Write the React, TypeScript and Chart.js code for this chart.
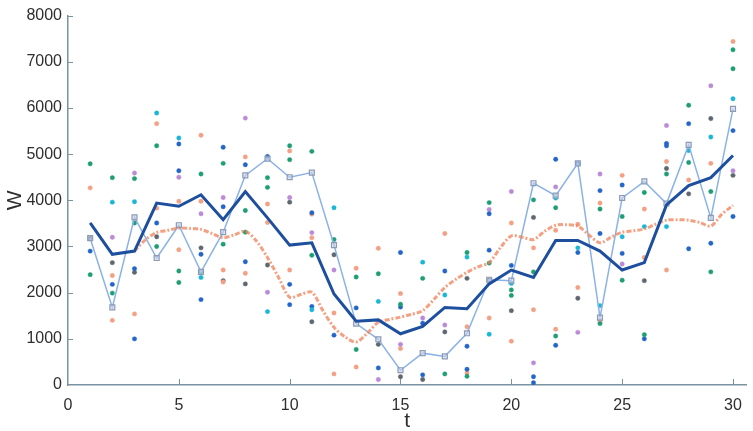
import React, { useEffect, useRef } from "react";
import { Chart, registerables } from "chart.js";
Chart.register(...registerables);

const tValues = [1, 2, 3, 4, 5, 6, 7, 8, 9, 10, 11, 12, 13, 14, 15, 16, 17, 18, 19, 20, 21, 22, 23, 24, 25, 26, 27, 28, 29, 30];
const meanW = [3510, 2830, 2900, 3940, 3870, 4120, 3580, 4190, 3620, 3030, 3080, 1970, 1380, 1410, 1110, 1270, 1680, 1650, 2190, 2490, 2330, 3130, 3130, 2900, 2490, 2650, 3900, 4320, 4490, 4970];
const squareW = [3180, 1680, 3630, 2750, 3460, 2450, 3310, 4540, 4900, 4500, 4600, 3030, 1330, 990, 320, 690, 620, 1120, 2280, 2260, 4370, 4100, 4800, 1460, 4050, 4410, 3930, 5200, 3620, 5980];
const smoothT = [3, 3.5, 4, 4.5, 5, 5.5, 6, 6.5, 7, 7.5, 8, 8.5, 9, 9.5, 10, 10.5, 11, 11.5, 12, 12.5, 13, 13.5, 14, 14.5, 15, 15.5, 16, 16.5, 17, 17.5, 18, 18.5, 19, 19.5, 20, 20.5, 21, 21.5, 22, 22.5, 23, 23.5, 24, 24.5, 25, 25.5, 26, 26.5, 27, 27.5, 28, 28.5, 29, 29.5, 30];
const smoothW = [2900, 3150, 3300, 3350, 3400, 3390, 3370, 3280, 3190, 3250, 3330, 3120, 2760, 2330, 1900, 1960, 2010, 1610, 1250, 1040, 930, 1120, 1360, 1420, 1470, 1530, 1610, 1850, 2110, 2290, 2440, 2560, 2650, 2970, 3230, 3200, 3150, 3330, 3460, 3470, 3440, 3250, 3080, 3200, 3310, 3340, 3380, 3480, 3570, 3580, 3570, 3520, 3440, 3700, 3890];

const greenPts = [[1, 4790], [1, 2390], [2, 4490], [2, 1990], [3, 4470], [3, 3510], [4, 5180], [4, 3000], [5, 2470], [5, 2220], [6, 4570], [6, 2450], [7, 4800], [7, 3050], [8, 3780], [8, 3310], [9, 4490], [9, 4280], [10, 5180], [10, 4880], [11, 5060], [11, 2810], [12, 3150], [13, 2340], [13, 770], [14, 2410], [15, 1750], [16, 2310], [17, 240], [18, 2870], [18, 190], [19, 3950], [19, 2640], [20, 2060], [20, 1940], [21, 4010], [21, 2450], [22, 3840], [22, 1060], [24, 3810], [24, 1330], [25, 3650], [25, 2270], [26, 4170], [26, 1090], [27, 4570], [28, 6060], [28, 4820], [29, 4190], [29, 2450], [30, 7260], [30, 6850]];
const cyanPts = [[2, 3960], [3, 3970], [4, 5890], [5, 5350], [6, 2330], [9, 1590], [11, 1630], [12, 3840], [14, 1810], [16, 2660], [17, 1950], [18, 2770], [19, 1100], [20, 2200], [22, 4050], [23, 2970], [24, 1720], [25, 3210], [26, 3430], [27, 3430], [28, 5080], [29, 5370], [30, 6200]];
const bluePts = [[1, 2900], [2, 2180], [3, 2520], [3, 1000], [4, 3510], [5, 5220], [5, 4640], [6, 2830], [6, 1850], [7, 5150], [7, 3860], [8, 4770], [8, 2670], [9, 4950], [10, 2180], [10, 1740], [11, 3730], [11, 1700], [12, 1080], [13, 1670], [14, 370], [15, 2870], [15, 1690], [16, 1340], [16, 220], [17, 2470], [18, 840], [18, 340], [19, 3710], [19, 2920], [20, 2590], [21, 180], [21, 50], [22, 4890], [22, 860], [23, 4800], [23, 2870], [24, 4210], [24, 3280], [25, 4330], [25, 2850], [26, 1000], [27, 5230], [27, 5180], [28, 5660], [28, 2950], [29, 3070], [30, 5510], [30, 3650]];
const purplePts = [[2, 3200], [3, 4590], [5, 4500], [6, 3710], [7, 4060], [8, 5780], [9, 2010], [10, 4060], [11, 3300], [12, 2490], [14, 120], [15, 880], [16, 1450], [17, 1300], [19, 3800], [20, 4190], [21, 480], [22, 4290], [23, 1140], [24, 4570], [25, 2620], [27, 5620], [29, 6480], [30, 4640]];
const salmonPts = [[1, 4270], [2, 2370], [2, 1400], [3, 1540], [4, 5660], [4, 3830], [5, 3980], [5, 2930], [6, 5410], [6, 3980], [7, 2490], [7, 2230], [8, 4940], [8, 2420], [9, 3920], [9, 3520], [10, 5070], [10, 2490], [11, 3700], [11, 3190], [12, 1560], [12, 240], [13, 2530], [13, 390], [14, 2960], [15, 1980], [15, 790], [17, 3280], [18, 1260], [18, 260], [19, 1450], [20, 3510], [20, 950], [21, 2970], [21, 1630], [22, 3350], [22, 1210], [23, 3480], [23, 2110], [24, 3940], [24, 1380], [25, 4540], [26, 3810], [26, 2760], [27, 4840], [27, 2490], [28, 4440], [29, 4800], [30, 7440]];
const greyPts = [[1, 3180], [2, 2650], [3, 2440], [4, 3210], [6, 2970], [7, 2260], [8, 2190], [9, 2600], [10, 3960], [11, 1370], [12, 2820], [14, 880], [15, 180], [16, 120], [17, 1150], [18, 2310], [19, 2280], [20, 1610], [21, 3630], [23, 1880], [26, 2260], [27, 4690], [28, 4140], [29, 5770], [30, 4540]];

const xTickValues = [0, 5, 10, 15, 20, 25, 30];
const yTickValues = [0, 1000, 2000, 3000, 4000, 5000, 6000, 7000, 8000];

const AXIS_COLOR = "#7a93a3";
const TEXT_COLOR = "#2e2e2e";
const FONT = "Liberation Sans, Arial, sans-serif";

const toXY = (pts: number[][]) => pts.map(([x, y]) => ({ x, y }));

const innerTicks = {
  id: "innerTicks",
  afterDraw(chart: any) {
    const { ctx, chartArea, scales } = chart;
    const xs = scales.x;
    const ys = scales.y;
    ctx.save();
    ctx.strokeStyle = AXIS_COLOR;
    ctx.lineWidth = 1;
    xTickValues.forEach((v) => {
      if (v === 0) return;
      const px = Math.round(xs.getPixelForValue(v)) + 0.5;
      ctx.beginPath();
      ctx.moveTo(px, chartArea.bottom);
      ctx.lineTo(px, chartArea.bottom - 6);
      ctx.stroke();
    });
    yTickValues.forEach((v) => {
      if (v === 0) return;
      const py = Math.round(ys.getPixelForValue(v)) + 0.5;
      ctx.beginPath();
      ctx.moveTo(chartArea.left, py);
      ctx.lineTo(chartArea.left + 5, py);
      ctx.stroke();
    });
    ctx.restore();
  },
};

function dots(label: string, pts: number[][], color: string) {
  return {
    type: "scatter" as const,
    label,
    data: toXY(pts),
    showLine: false,
    pointRadius: 2.2,
    pointBorderWidth: 0.8,
    pointBackgroundColor: color,
    pointBorderColor: color + "88",
  };
}

export default function App() {
  const ref = useRef<HTMLCanvasElement | null>(null);
  useEffect(() => {
    if (!ref.current) return;
    const chart = new Chart(ref.current, {
      type: "line",
      data: {
        datasets: [
          {
            label: "mean",
            data: tValues.map((t, i) => ({ x: t, y: meanW[i] })),
            borderColor: "#1d4f9e",
            borderWidth: 3,
            pointRadius: 0,
            tension: 0,
          },
          {
            label: "smooth",
            data: smoothT.map((t, i) => ({ x: t, y: smoothW[i] })),
            borderColor: "rgba(240,130,90,0.75)",
            borderWidth: 3,
            borderDash: [5, 2, 2, 2],
            pointRadius: 0,
            tension: 0.3,
          },
          {
            label: "squares",
            data: tValues.map((t, i) => ({ x: t, y: squareW[i] })),
            borderColor: "#8bb2e8",
            borderWidth: 1.5,
            pointStyle: "rect",
            pointRadius: 3.5,
            pointBorderWidth: 1.2,
            pointBorderColor: "#8d9bb5",
            pointBackgroundColor: "rgba(200,214,236,0.6)",
            tension: 0,
          },
          dots("green", greenPts, "#1f9e76"),
          dots("cyan", cyanPts, "#1bb6d6"),
          dots("blue", bluePts, "#2465c8"),
          dots("purple", purplePts, "#bb8bd6"),
          dots("salmon", salmonPts, "#f3a085"),
          dots("grey", greyPts, "#5e686e"),
        ] as any,
      },
      options: {
        animation: false,
        responsive: true,
        maintainAspectRatio: false,
        layout: { padding: { top: 13, right: 0, left: 0, bottom: 0 } },
        plugins: {
          legend: { display: false },
          tooltip: { enabled: false },
        },
        scales: {
          x: {
            type: "linear",
            min: 0,
            max: 30.6,
            afterBuildTicks: (scale: any) => {
              scale.ticks = xTickValues.map((v) => ({ value: v }));
            },
            afterFit: (scale: any) => {
              scale.height = 46;
            },
            grid: { display: false, drawTicks: false },
            border: { display: true, color: AXIS_COLOR, width: 1.5 },
            ticks: {
              padding: 11,
              color: TEXT_COLOR,
              font: { family: FONT, size: 16 },
              maxRotation: 0,
              callback: (v: any) => String(v),
            },
            title: {
              display: true,
              text: "t",
              color: TEXT_COLOR,
              font: { family: FONT, size: 21 },
              padding: { top: 0, bottom: -3 },
            },
          },
          y: {
            type: "linear",
            min: 0,
            max: 8000,
            afterBuildTicks: (scale: any) => {
              scale.ticks = yTickValues.map((v) => ({ value: v }));
            },
            afterFit: (scale: any) => {
              scale.width = 68;
            },
            grid: { display: false, drawTicks: false },
            border: { display: true, color: AXIS_COLOR, width: 1.5 },
            ticks: {
              padding: 6,
              color: TEXT_COLOR,
              font: { family: FONT, size: 16 },
              callback: (v: any) => String(v),
            },
            title: {
              display: true,
              text: "W",
              color: TEXT_COLOR,
              font: { family: FONT, size: 21 },
              padding: { top: 3, bottom: 0 },
            },
          },
        },
      },
      plugins: [innerTicks],
    });
    return () => chart.destroy();
  }, []);
  return (
    <div style={{ position: "fixed", left: 0, top: 0, width: 753, height: 431, background: "#fff" }}>
      <canvas ref={ref} />
    </div>
  );
}
